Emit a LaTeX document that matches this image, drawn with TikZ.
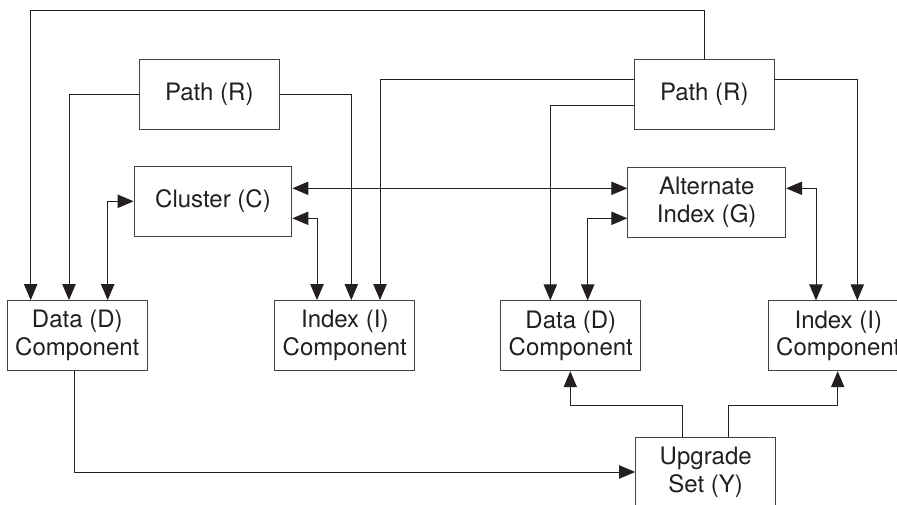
\documentclass[tikz,border=0pt]{standalone}
\usepackage{fontspec}
\setmainfont{TeX Gyre Heros}
\usetikzlibrary{arrows.meta}
\definecolor{linec}{RGB}{35,31,32}
\tikzset{
  box/.style={draw=linec!85, line width=0.8pt, minimum width=105pt, minimum height=52.3pt,
              inner sep=0pt, align=center, text=linec, font=\fontsize{18}{20.8}\selectfont},
  widebox/.style={box, minimum width=118.3pt},
  conn/.style={draw=linec, line width=0.75pt},
  arr/.style={conn, -{Triangle[length=12pt,width=10pt]}},
  darr/.style={conn, {Triangle[length=12pt,width=10pt]}-{Triangle[length=12pt,width=10pt]}}
}
\begin{document}
\begin{tikzpicture}[x=0.75pt, y=-0.75pt]
\useasboundingbox (0,0) rectangle (897,504);
\clip (0,0) rectangle (897,504);
\fill[white] (0,0) rectangle (897,504);

\node[box] (pr1) at (209.3,94.3) {Path (R)};
\node[box] (pr2) at (704.3,94.3) {Path (R)};
\node[widebox] (c) at (213,201.3) {Cluster (C)};
\node[widebox] (g) at (706.7,202.3) {Alternate\\Index (G)};
\node[box] (d1) at (77.3,335.5) {Data (D)\\Component};
\node[box] (i1) at (344.8,335.5) {Index (I)\\Component};
\node[box] (d2) at (570.8,335.8) {Data (D)\\Component};
\node[box] (i2) at (838.3,335.8) {Index (I)\\Component};
\node[box] (y) at (705.7,472) {Upgrade\\Set (Y)};

% Path (R) right -> top loop -> Data (D) left
\draw[arr] (pr2.north) |- (30.7,10.7) -- (d1.north -| 30.7,0);
% Path (R) left -> Data (D)
\draw[arr] (pr1.west) -| (d1.north -| 69,0);
% Path (R) left -> Index (I)
\draw[arr] (pr1.east) -| (i1.north -| 351.3,0);
% Data <-> Cluster
\draw[darr] (d1.north -| 107.7,0) |- (c.west);
% Cluster <-> Index
\draw[darr] (c.east |- 0,218.3) -| (i1.north -| 317,0);
% Path (R) right -> Index (I) left
\draw[arr] (pr2.west |- 0,79.3) -| (i1.north -| 380,0);
% Cluster <-> Alternate Index
\draw[darr] (c.east |- 0,188.3) -- (g.west |- 0,188.3);
% Path (R) right -> Data (D) right
\draw[arr] (pr2.west |- 0,105.3) -| (d2.north -| 550.3,0);
% Alternate Index <-> Data (D) right
\draw[darr] (g.west |- 0,218.3) -| (d2.north -| 587.7,0);
% Path (R) right -> Index (I) right
\draw[arr] (pr2.east |- 0,79.3) -| (i2.north -| 857.3,0);
% Alternate Index <-> Index (I) right
\draw[darr] (g.east |- 0,188.3) -| (i2.north -| 816,0);
% Data (D) left -> Upgrade Set
\draw[arr] (d1.south -| 74.3,0) |- (y.west);
% Upgrade Set -> Data (D) right
\draw[arr] (y.north -| 682.7,0) |- (570.3,405.7) -- (d2.south -| 570.3,0);
% Upgrade Set -> Index (I) right
\draw[arr] (y.north -| 728.7,0) |- (837.7,405.7) -- (i2.south -| 837.7,0);
\end{tikzpicture}
\end{document}
